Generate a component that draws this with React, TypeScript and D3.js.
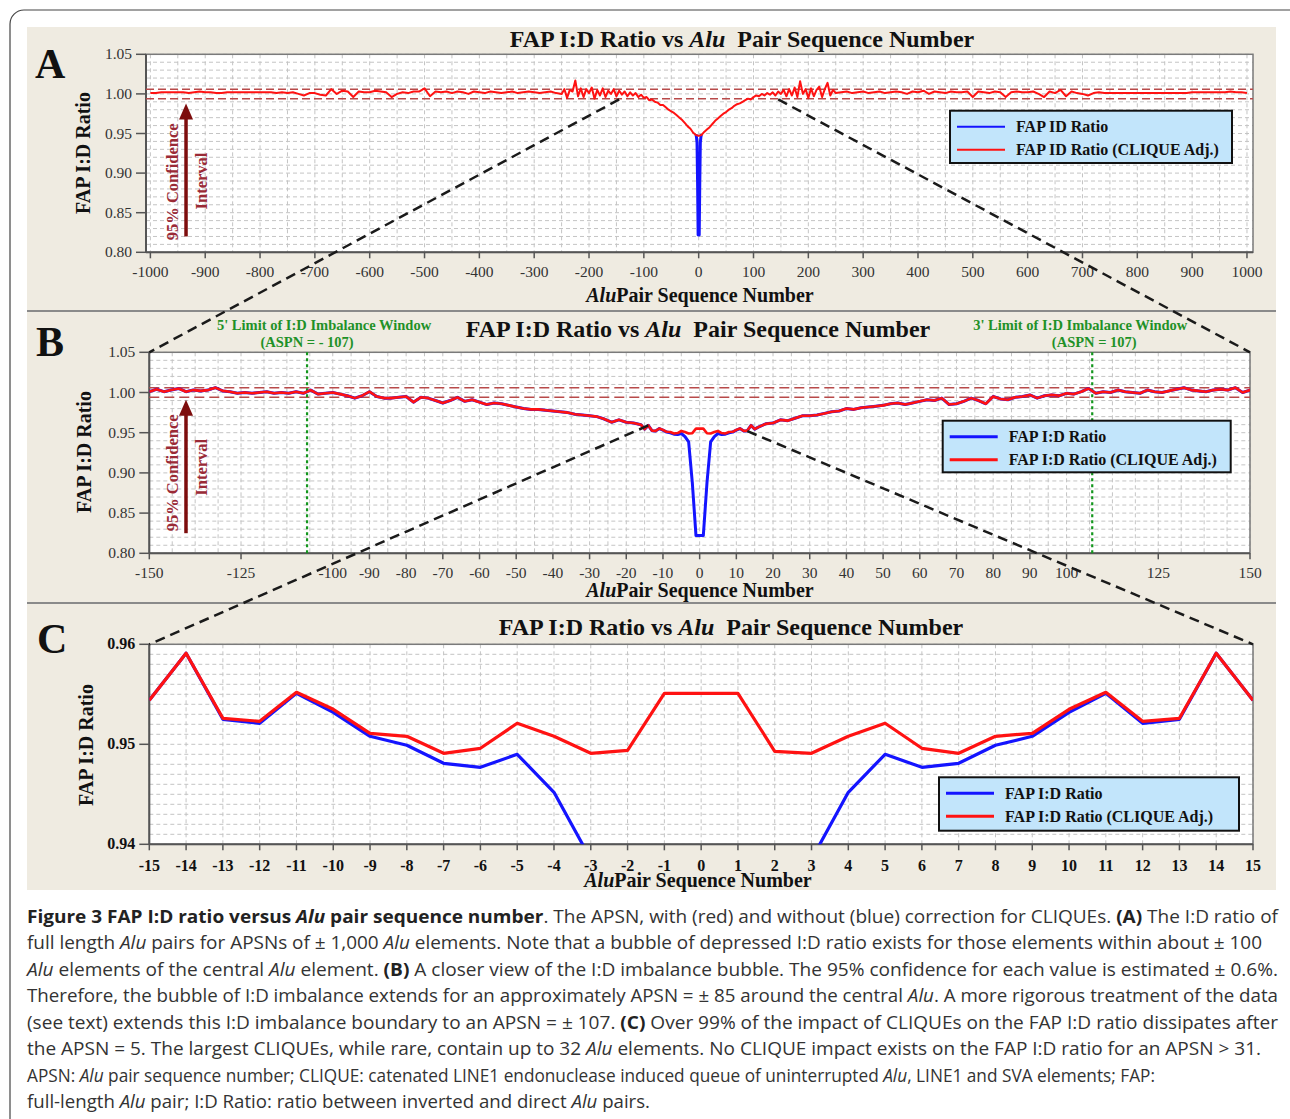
import React from 'react';
import * as d3 from 'd3';

const SERIF = '"Liberation Serif", "Times New Roman", serif';
const SANS = '"Open Sans", "Noto Sans", sans-serif';
const RED = '#ff1212';
const BLUE = '#1414ff';

// ---- Panel C: ASPN -15..15 (every point)
const cAspn = d3.range(-15, 16);
const cRatio = [0.9544, 0.9591, 0.9525, 0.9521, 0.9551, 0.9532, 0.9508, 0.9499, 0.9481, 0.9477, 0.9490,
  0.9452, 0.9385, 0.888, 0.822, 0.822, 0.822, 0.888, 0.9385, 0.9452,
  0.9490, 0.9477, 0.9481, 0.9499, 0.9508, 0.9532, 0.9551, 0.9521, 0.9525, 0.9591, 0.9544];
const cRatioAdj = [0.9544, 0.9591, 0.9526, 0.9523, 0.9552, 0.9535, 0.9511, 0.9508, 0.9491, 0.9496, 0.9521,
  0.9508, 0.9491, 0.9494, 0.9551, 0.9551, 0.9551, 0.9493, 0.9491, 0.9508,
  0.9521, 0.9496, 0.9491, 0.9508, 0.9511, 0.9535, 0.9552, 0.9523, 0.9526, 0.9591, 0.9544];

// ---- Panel B flanks (every 2nd ASPN), both series coincide here
const bAspnLeft = d3.range(-150, -15, 2);
const bRatioLeft = [1.001, 1.004, 1.001, 1.003, 1.005, 1.001, 1.003, 1.002, 1.003, 1.006,
  1.002, 1.001, 0.999, 1.000, 0.999, 1.000, 1.001, 0.999, 1.000, 0.999,
  1.001, 0.999, 1.003, 0.998, 0.999, 1.000, 0.998, 0.996, 0.993, 0.996,
  1.001, 0.995, 0.993, 0.993, 0.994, 0.995, 0.988, 0.994, 0.993, 0.990,
  0.987, 0.990, 0.994, 0.989, 0.991, 0.988, 0.985, 0.987, 0.986, 0.984,
  0.982, 0.980, 0.979, 0.979, 0.978, 0.977, 0.976, 0.975, 0.973, 0.972,
  0.971, 0.970, 0.967, 0.963, 0.966, 0.963, 0.962, 0.960];
const bAspnRight = d3.range(16, 151, 2);
const bRatioRight = [0.957, 0.961, 0.962, 0.966, 0.965, 0.968, 0.971, 0.971, 0.972, 0.974,
  0.976, 0.977, 0.980, 0.979, 0.981, 0.982, 0.983, 0.984, 0.986, 0.987,
  0.985, 0.987, 0.989, 0.991, 0.990, 0.993, 0.985, 0.986, 0.989, 0.993,
  0.990, 0.986, 0.995, 0.992, 0.991, 0.994, 0.995, 0.997, 0.993, 0.996,
  0.997, 0.996, 0.999, 0.998, 1.001, 1.005, 0.999, 1.001, 1.000, 1.003,
  1.001, 1.000, 0.999, 1.003, 1.001, 1.000, 1.002, 1.004, 1.006, 1.003,
  1.002, 1.001, 1.003, 1.004, 1.003, 1.006, 1.000, 1.003];

// ---- Panel A (every 10th ASPN outside, every 5th within +-250)
const aAspnOuterLeft = d3.range(-1000, -259, 10);
const aAdjOuterLeft = [1.001, 1.001, 1.002, 1.002, 1.002, 1.002, 1.002, 1.001, 1.002, 1.003,
  1.002, 1.002, 1.001, 1.001, 1.002, 1.002, 1.002, 1.002, 1.002, 1.002,
  1.002, 1.002, 1.002, 1.001, 1.002, 1.001, 1.002, 1.000, 0.998, 1.001,
  1.001, 0.999, 0.998, 1.006, 1.000, 1.004, 1.003, 0.996, 1.003, 1.002,
  1.002, 1.004, 1.003, 1.002, 0.996, 1.000, 1.002, 1.001, 1.003, 1.003,
  1.007, 0.997, 1.003, 1.002, 1.003, 1.001, 1.003, 1.002, 1.000, 1.003,
  1.002, 1.001, 1.003, 1.002, 1.001, 1.002, 1.003, 1.001, 1.002, 1.003,
  1.002, 1.001, 1.002, 1.003, 1.001];
const aAspnMid = d3.range(-250, 251, 5);
const aAdjMid = [1.000, 1.006, 0.995, 1.005, 1.003, 1.017, 0.997, 1.007, 0.996, 1.006,
  1.001, 1.008, 0.994, 1.005, 0.998, 1.007, 0.996, 1.004, 1.000, 1.006,
  0.997, 1.004, 0.999, 1.003, 0.997, 1.002, 0.998, 1.001, 0.996, 0.999,
  0.995, 0.996, 0.992, 0.993, 0.990, 0.989, 0.986, 0.986, 0.983, 0.980,
  0.978, 0.976, 0.973, 0.970, 0.967, 0.963, 0.959, 0.956, 0.951, 0.948,
  0.947,
  0.948, 0.952, 0.955, 0.958, 0.962, 0.966, 0.969, 0.972, 0.975, 0.977,
  0.980, 0.982, 0.985, 0.987, 0.988, 0.990, 0.992, 0.994, 0.993, 0.996,
  0.998, 0.997, 1.000, 0.998, 1.001, 0.999, 1.002, 0.998, 1.003, 1.000,
  1.005, 0.997, 1.006, 0.998, 1.008, 0.996, 1.016, 1.000, 1.006, 0.995,
  1.007, 0.997, 1.005, 1.009, 0.996, 1.006, 1.014, 0.998, 1.005, 1.001];
const aAspnOuterRight = d3.range(260, 1001, 10);
const aAdjOuterRight = [1.002, 1.003, 1.001, 1.002, 1.003, 1.001, 1.002, 1.003, 1.001, 1.002,
  1.003, 1.002, 1.000, 1.003, 1.002, 1.004, 1.000, 1.003, 1.002, 1.001,
  1.003, 1.002, 1.002, 1.003, 0.996, 1.003, 1.002, 1.001, 1.003, 1.002,
  0.996, 1.002, 1.003, 1.002, 1.002, 1.003, 1.000, 0.996, 1.003, 1.001,
  1.005, 0.997, 1.003, 1.001, 1.000, 0.998, 1.001, 1.002, 1.001, 1.001,
  1.001, 1.001, 1.001, 1.001, 1.001, 1.001, 1.001, 1.001, 1.001, 1.001,
  1.001, 1.001, 1.001, 1.001, 1.002, 1.002, 1.002, 1.002, 1.002, 1.002,
  1.002, 1.003, 1.002, 1.002, 1.001];

// ---- axes
const aTicksX = d3.range(-1000, 1001, 100);
const bTicksX = [-150, -125, -100, -90, -80, -70, -60, -50, -40, -30, -20, -10, 0,
  10, 20, 30, 40, 50, 60, 70, 80, 90, 100, 125, 150];
const cTicksX = d3.range(-15, 16);
const abTicksY = [0.8, 0.85, 0.9, 0.95, 1.0, 1.05];
const cTicksY = [0.94, 0.95, 0.96];
const ciBounds = [1.006, 0.994];
const imbalanceLimits = [-107, 107];
const legendLabelsA = ['FAP ID Ratio', 'FAP ID Ratio (CLIQUE Adj.)'];
const legendLabelsBC = ['FAP I:D Ratio', 'FAP I:D Ratio (CLIQUE Adj.)'];

type Pt = [number, number];
const zip = (xs: number[], ys: number[]): Pt[] => xs.map((x, i) => [x, ys[i]] as Pt);

const cBlue = zip(cAspn, cRatio);
const cRed = zip(cAspn, cRatioAdj);
const bBlue = [...zip(bAspnLeft, bRatioLeft), ...cBlue, ...zip(bAspnRight, bRatioRight)];
const bRed = [...zip(bAspnLeft, bRatioLeft), ...cRed, ...zip(bAspnRight, bRatioRight)];
const aRed = [...zip(aAspnOuterLeft, aAdjOuterLeft), ...zip(aAspnMid, aAdjMid), ...zip(aAspnOuterRight, aAdjOuterRight)];
const aBlue = cBlue.filter(d => Math.abs(d[0]) <= 5);

// scales (plot frames)
const xA = d3.scaleLinear().domain([-1008, 1011]).range([146, 1253]);
const yA = d3.scaleLinear().domain([0.8, 1.05]).range([252.3, 54.3]);
const xB = d3.scaleLinear().domain([-150, 150]).range([149.3, 1250]);
const yB = d3.scaleLinear().domain([0.8, 1.05]).range([553.3, 352.3]);
const xC = d3.scaleLinear().domain([-15, 15]).range([149.3, 1253]);
const yC = d3.scaleLinear().domain([0.94, 0.96]).range([844.3, 644.3]);

function subdivide(ticks: number[], n: (gap: number) => number) {
  const out: number[] = [];
  for (let i = 0; i < ticks.length - 1; i++) {
    const a = ticks[i], b = ticks[i + 1], k = n(b - a);
    for (let j = 0; j < k; j++) out.push(a + ((b - a) * j) / k);
  }
  out.push(ticks[ticks.length - 1]);
  return out;
}

type Lin = d3.ScaleLinear<number, number>;

function Frame({ x, y, xTicks, yTicks, xGrid, yGrid, bold, xLabelDy, id }: {
  x: Lin; y: Lin; xTicks: number[]; yTicks: number[]; xGrid: number[]; yGrid: number[];
  bold?: boolean; xLabelDy: number; id: string;
}) {
  const [l, r] = x.range();
  const [b, t] = y.range();
  const tickFont = { fontFamily: SERIF, fontSize: bold ? 16 : 15.5, fontWeight: bold ? 700 : 400, fill: bold ? '#111' : '#333' };
  return (
    <g>
      <defs>
        <clipPath id={id}><rect x={l} y={t} width={r - l} height={b - t} /></clipPath>
      </defs>
      <rect x={l} y={t} width={r - l} height={b - t} fill="#fff" />
      {xGrid.map((v, i) => (
        <line key={'gx' + i} x1={x(v)} x2={x(v)} y1={t} y2={b} stroke="#c4c4c4" strokeDasharray="4 3" />
      ))}
      {yGrid.map((v, i) => (
        <line key={'gy' + i} x1={l} x2={r} y1={y(v)} y2={y(v)} stroke="#c4c4c4" strokeDasharray="4 3" />
      ))}
      <rect x={l} y={t} width={r - l} height={b - t} fill="none" stroke="#7a7a7a" strokeWidth={1.5} />
      <line x1={l} x2={l} y1={t} y2={b} stroke="#555" strokeWidth={2} />
      <line x1={l} x2={r} y1={b} y2={b} stroke="#555" strokeWidth={2} />
      {xTicks.map(v => (
        <g key={'tx' + v}>
          <line x1={x(v)} x2={x(v)} y1={b} y2={b + 6} stroke="#555" strokeWidth={1.5} />
          <text x={x(v)} y={b + xLabelDy} textAnchor="middle" {...tickFont}>{String(v)}</text>
        </g>
      ))}
      {yTicks.map(v => (
        <g key={'ty' + v}>
          <line x1={l - 10} x2={l} y1={y(v)} y2={y(v)} stroke="#555" strokeWidth={1.5} />
          <text x={l - 14} y={y(v) + 5} textAnchor="end" {...tickFont}>{d3.format('.2f')(v)}</text>
        </g>
      ))}
    </g>
  );
}

function Series({ data, x, y, color, width, clip }: { data: Pt[]; x: Lin; y: Lin; color: string; width: number; clip: string }) {
  const line = d3.line<Pt>().x(d => x(d[0])).y(d => y(d[1]));
  return <path d={line(data) || ''} fill="none" stroke={color} strokeWidth={width} strokeLinejoin="round" clipPath={`url(#${clip})`} />;
}

function Legend({ x, y, w, h, labels, lw }: { x: number; y: number; w: number; h: number; labels: string[]; lw: number }) {
  const rows = [16, 39];
  return (
    <g>
      <rect x={x} y={y} width={w} height={h} fill="#c2e5fb" stroke="#111" strokeWidth={2} />
      {labels.map((lab, i) => (
        <g key={lab}>
          <line x1={x + 7} x2={x + 55} y1={y + rows[i]} y2={y + rows[i]} stroke={i === 0 ? BLUE : RED} strokeWidth={lw} />
          <text x={x + 66} y={y + rows[i] + 5.5} fontFamily={SERIF} fontWeight={700} fontSize={16} fill="#111">{lab}</text>
        </g>
      ))}
    </g>
  );
}

function Title({ cx, y }: { cx: number; y: number }) {
  return (
    <text x={cx} y={y} textAnchor="middle" fontFamily={SERIF} fontWeight={700} fontSize={24} fill="#111" style={{ whiteSpace: 'pre' }}>
      FAP I:D Ratio vs <tspan fontStyle="italic">Alu</tspan>  Pair Sequence Number
    </text>
  );
}

function XLabel({ cx, y }: { cx: number; y: number }) {
  return (
    <text x={cx} y={y} textAnchor="middle" fontFamily={SERIF} fontWeight={700} fontSize={20} fill="#111">
      <tspan fontStyle="italic">Alu</tspan>Pair Sequence Number
    </text>
  );
}

function YLabel({ x, cy }: { x: number; cy: number }) {
  return (
    <text transform={`translate(${x},${cy}) rotate(-90)`} textAnchor="middle" fontFamily={SERIF} fontWeight={700} fontSize={20} fill="#111">
      FAP I:D Ratio
    </text>
  );
}

function CIAnnotation({ x, y0, y1, cy1, cy2 }: { x: number; y0: number; y1: number; cy1: number; cy2: number }) {
  const col = '#7d0d0d';
  return (
    <g>
      <line x1={x} x2={x} y1={y0} y2={y1 + 14} stroke={col} strokeWidth={3.5} />
      <polygon points={`${x - 7},${y1 + 16} ${x + 7},${y1 + 16} ${x},${y1}`} fill={col} />
      <text transform={`translate(${x - 8},${cy1}) rotate(-90)`} textAnchor="middle" fontFamily={SERIF} fontWeight={700} fontSize={16.5} fill="#9a2a36">95% Confidence</text>
      <text transform={`translate(${x + 21},${cy2}) rotate(-90)`} textAnchor="middle" fontFamily={SERIF} fontWeight={700} fontSize={16.5} fill="#9a2a36">Interval</text>
    </g>
  );
}

const captionLines: [string, string][][] = [
  [['Figure 3 FAP I:D ratio versus ', 'b'], ['Alu', 'bi'], [' pair sequence number', 'b'], ['. The APSN, with (red) and without (blue) correction for CLIQUEs. ', 'n'], ['(A)', 'b'], [' The I:D ratio of', 'n']],
  [['full length ', 'n'], ['Alu', 'i'], [' pairs for APSNs of \u00b1 1,000 ', 'n'], ['Alu', 'i'], [' elements. Note that a bubble of depressed I:D ratio exists for those elements within about \u00b1 100', 'n']],
  [['Alu', 'i'], [' elements of the central ', 'n'], ['Alu', 'i'], [' element. ', 'n'], ['(B)', 'b'], [' A closer view of the I:D imbalance bubble. The 95% confidence for each value is estimated \u00b1 0.6%.', 'n']],
  [['Therefore, the bubble of I:D imbalance extends for an approximately APSN = \u00b1 85 around the central ', 'n'], ['Alu', 'i'], ['. A more rigorous treatment of the data', 'n']],
  [['(see text) extends this I:D imbalance boundary to an APSN = \u00b1 107. ', 'n'], ['(C)', 'b'], [' Over 99% of the impact of CLIQUEs on the FAP I:D ratio dissipates after', 'n']],
  [['the APSN = 5. The largest CLIQUEs, while rare, contain up to 32 ', 'n'], ['Alu', 'i'], [' elements. No CLIQUE impact exists on the FAP I:D ratio for an APSN > 31.', 'n']],
  [['APSN: ', 'n'], ['Alu', 'i'], [' pair sequence number; CLIQUE: catenated LINE1 endonuclease induced queue of uninterrupted ', 'n'], ['Alu', 'i'], [', LINE1 and SVA elements; FAP:', 'n']],
  [['full-length ', 'n'], ['Alu', 'i'], [' pair; I:D Ratio: ratio between inverted and direct ', 'n'], ['Alu', 'i'], [' pairs.', 'n']],
];
const captionEnds = [1278, 1262, 1278, 1278, 1278, 1261, 1155, 650];

export default function App() {
  const dash = { stroke: '#1a1a1a', strokeWidth: 2.5, strokeDasharray: '10 6' };
  const connectors = [
    [xA(-145), yA(0.993), xB(-150), yB(1.05)],
    [xA(145), yA(0.993), xB(150), yB(1.05)],
    [xB(-14), yB(0.959), xC(-15), yC(0.96)],
    [xB(13), yB(0.952), xC(15), yC(0.96)],
  ];
  return (
    <svg width={1290} height={1119} style={{ position: 'absolute', left: 0, top: 0, display: 'block' }}>
      <rect x={0} y={0} width={1290} height={1119} fill="#fff" />
      <rect x={10} y={10} width={1310} height={1140} rx={14} fill="#fff" stroke="#444" strokeWidth={1.2} />
      <rect x={27} y={27} width={1249} height={863} fill="#efebe1" />
      <line x1={27} x2={1276} y1={311} y2={311} stroke="#8a8a8a" strokeWidth={2} />
      <line x1={27} x2={1276} y1={603} y2={603} stroke="#8a8a8a" strokeWidth={2} />

      {/* Panel A */}
      <text x={35} y={78} fontFamily={SERIF} fontWeight={700} fontSize={42} fill="#111">A</text>
      <Title cx={742} y={47} />
      <Frame id="clipA" x={xA} y={yA} xTicks={aTicksX} yTicks={abTicksY}
        xGrid={subdivide(aTicksX, () => 2)} yGrid={subdivide(abTicksY, () => 5)} xLabelDy={25} />
      {ciBounds.map(v => (
        <line key={'ciA' + v} x1={xA.range()[0]} x2={xA.range()[1]} y1={yA(v)} y2={yA(v)} stroke="#b84a4a" strokeWidth={1.5} strokeDasharray="8 4" />
      ))}
      <Series data={aBlue} x={xA} y={yA} color={BLUE} width={3} clip="clipA" />
      <Series data={aRed} x={xA} y={yA} color={RED} width={2} clip="clipA" />
      <CIAnnotation x={xA(-935)} y0={yA(0.82)} y1={yA(0.988)} cy1={yA(0.889)} cy2={yA(0.89)} />
      <Legend x={950} y={110.7} w={282} h={52.3} labels={legendLabelsA} lw={2} />
      <XLabel cx={700} y={302} />
      <YLabel x={90} cy={153} />

      {/* Panel B */}
      <text x={36} y={356} fontFamily={SERIF} fontWeight={700} fontSize={42} fill="#111">B</text>
      <Title cx={698} y={337} />
      <Frame id="clipB" x={xB} y={yB} xTicks={bTicksX} yTicks={abTicksY}
        xGrid={subdivide(bTicksX, g => (g > 10 ? 4 : 2))} yGrid={subdivide(abTicksY, () => 5)} xLabelDy={25} />
      {ciBounds.map(v => (
        <line key={'ciB' + v} x1={xB.range()[0]} x2={xB.range()[1]} y1={yB(v)} y2={yB(v)} stroke="#b84a4a" strokeWidth={1.5} strokeDasharray="10 5" />
      ))}
      {imbalanceLimits.map(v => (
        <line key={'lim' + v} x1={xB(v)} x2={xB(v)} y1={yB.range()[1]} y2={yB.range()[0]} stroke="#14961e" strokeWidth={2.2} strokeDasharray="3 3" />
      ))}
      <Series data={bBlue} x={xB} y={yB} color={BLUE} width={3} clip="clipB" />
      <Series data={bRed} x={xB} y={yB} color={RED} width={2.6} clip="clipB" />
      <CIAnnotation x={xB(-140)} y0={yB(0.825)} y1={yB(0.991)} cy1={yB(0.9)} cy2={yB(0.907)} />
      <g fontFamily={SERIF} fontWeight={700} fontSize={14.5} fill="#1f9128" textAnchor="middle">
        <text x={xB(imbalanceLimits[0]) + 17} y={330}>5' Limit of I:D Imbalance Window</text>
        <text x={xB(imbalanceLimits[0])} y={347}>(ASPN = - 107)</text>
        <text x={xB(imbalanceLimits[1]) - 12} y={330}>3' Limit of I:D Imbalance Window</text>
        <text x={xB(imbalanceLimits[1]) + 2} y={347}>(ASPN = 107)</text>
      </g>
      <Legend x={942.7} y={420.7} w={288} h={51.6} labels={legendLabelsBC} lw={3} />
      <XLabel cx={700} y={597} />
      <YLabel x={90.7} cy={452} />

      {/* Panel C */}
      <text x={37} y={653} fontFamily={SERIF} fontWeight={700} fontSize={42} fill="#111">C</text>
      <Title cx={731} y={635} />
      <Frame id="clipC" x={xC} y={yC} xTicks={cTicksX} yTicks={cTicksY} bold
        xGrid={cTicksX} yGrid={subdivide(cTicksY, () => 10)} xLabelDy={27} />
      <Series data={cBlue} x={xC} y={yC} color={BLUE} width={3.2} clip="clipC" />
      <Series data={cRed} x={xC} y={yC} color={RED} width={3.2} clip="clipC" />
      <Legend x={939} y={777.3} w={300} h={53.4} labels={legendLabelsBC} lw={3} />
      <XLabel cx={698} y={887} />
      <YLabel x={92.7} cy={745} />

      {/* zoom connectors */}
      {connectors.map((c, i) => (
        <line key={'cn' + i} x1={c[0]} y1={c[1]} x2={c[2]} y2={c[3]} {...dash} />
      ))}

      {/* caption */}
      {captionLines.map((segs, i) => (
        <text key={'cap' + i} x={27} y={923 + i * 26.45} fontFamily={SANS} fontSize={18} fill="#333"
          textLength={captionEnds[i] - 27} lengthAdjust="spacingAndGlyphs" style={{ whiteSpace: 'pre' }}>
          {segs.map(([s, st], j) => (
            <tspan key={j} fontWeight={st.includes('b') ? 700 : 400} fontStyle={st.includes('i') ? 'italic' : 'normal'} fill={st.includes('b') ? '#222' : '#333'}>{s}</tspan>
          ))}
        </text>
      ))}
    </svg>
  );
}
